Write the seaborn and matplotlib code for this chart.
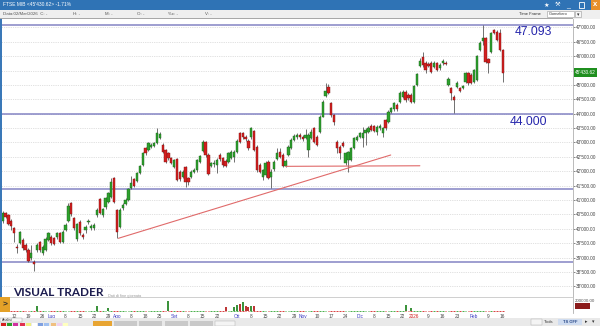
import numpy as np
import pandas as pd
import matplotlib
matplotlib.use("Agg")
import matplotlib.pyplot as plt
import seaborn as sns
from matplotlib.patches import Rectangle

sns.set_theme(style="white")
plt.rcParams['font.family'] = ['Liberation Sans', 'DejaVu Sans']

# ---------------- data ----------------
opens = [40270, 40560, 40480, 40270, 40020, 39380, 39490, 39610, 39440, 39260,
         38970, 38860, 39260, 39550, 39150, 39260, 39610, 39730, 39670, 39700,
         39840, 39550, 39960, 40270, 40910, 40390, 39630, 40250, 39780, 39960,
         40230, 40020, 40020, 40480, 41020, 40480, 40750, 40940, 41120, 41750,
         40650, 40070, 40710, 40850, 41000, 41410, 41720, 41660, 41950, 42220,
         42800, 42740, 42850, 42880, 42970, 43140, 42910, 42740, 42620, 42450,
         42160, 42410, 41990,
         41800, 42150, 41750, 41810, 41970, 42040, 42330, 42720, 43030, 42560,
         42180, 42250, 42220, 42560, 42450, 42370, 42330, 42450, 42510, 42680,
         43320, 43320, 43200, 43060, 43180, 43400, 42850, 42220, 41810, 41870,
         42330, 41810, 42070, 42410, 42680, 42560, 42180, 42560, 42800, 43090,
         43200, 43250, 43200, 43140, 42740, 43140, 43490, 43200, 43380, 43900,
         44620, 44940, 44360, 43960, 43030, 42850, 42990, 42280, 42390, 42390,
         42800, 43090, 43200, 43140,
         43320, 43380, 43570, 43570, 43380, 43490, 43320, 43780, 43720, 44070,
         44150, 44300, 44420, 44590, 44770, 44650, 44650, 44420, 45000, 45660,
         45980, 45770, 45730, 45770, 45640, 45750, 45580, 45750, 45770, 45000,
         44880, 44590, 44940, 44880, 44880, 45110, 45400, 45350, 45110, 45170,
         46210, 46540, 46620, 45890, 46160, 46910, 46850, 46790, 46210]
closes = [40560, 40420, 40160, 40100, 39840, 39330, 39890, 39320, 39260, 38890,
          39150, 38780, 39420, 39260, 39360, 39640, 39840, 39490, 39470, 39840,
          39550, 39900, 40130, 40790, 40500, 40020, 40160, 39840, 39700, 40070,
          40260, 40100, 40120, 40650, 40560, 40680, 41060, 41230, 41640, 40940,
          39900, 40650, 40830, 41000, 41370, 41580, 41490, 41930, 42180, 42620,
          42620, 42970, 42920, 42970, 43320, 43300, 42680, 42330, 42450, 42280,
          42390, 41700, 41720,
          41990, 41610, 41610, 41990, 42040, 42390, 42530, 43030, 42560, 41900,
          42280, 42300, 42390, 42410, 42220, 42180, 42620, 42680, 42680, 43060,
          43030, 43180, 43130, 42800, 43490, 42740, 42040, 41990, 42040, 42300,
          41750, 41990, 42330, 42620, 42510, 42180, 42370, 42850, 43090, 43230,
          43260, 43180, 43110, 43260, 43260, 43380, 43030, 42910, 43900, 44420,
          44790, 44730, 43960, 43720, 42800, 42620, 42880, 42620, 42670, 42800,
          43140, 43200, 43320, 43320,
          43430, 43490, 43430, 43410, 43530, 43570, 43490, 43490, 44070, 44190,
          44360, 44150, 44730, 44770, 44480, 44530, 44420, 44960, 45380, 45840,
          45690, 45520, 45660, 45460, 45770, 45520, 45690, 45840, 45730, 45190,
          44710, 44480, 45080, 44800, 44960, 45400, 45060, 45080, 45520, 46000,
          46450, 46620, 45810, 45750, 46790, 46820, 46560, 46210, 45430.62]
highs = [40630, 40600, 40510, 40330, 40070, 39460, 39930, 39670, 39490, 39320,
         39440, 38910, 39490, 39590, 39430, 39700, 39880, 39780, 39730, 39880,
         39890, 39960, 40190, 40910, 40940, 40420, 40210, 40310, 39840, 40130,
         40330, 40160, 40190, 40710, 41070, 40720, 41120, 41290, 41750, 41790,
         40680, 40710, 40880, 41060, 41410, 41840, 41770, 41970, 42230, 42670,
         42850, 43030, 42990, 43020, 43490, 43380, 42970, 42790, 42670, 42510,
         42440, 42460, 42040,
         42040, 42190, 41810, 42040, 42100, 42440, 42580, 43090, 43060, 42620,
         42330, 42390, 42450, 42620, 42510, 42410, 42670, 42740, 42740, 43110,
         43360, 43360, 43260, 43110, 43530, 43430, 42900, 42280, 42090, 42350,
         42390, 42070, 42390, 42800, 42800, 42620, 42410, 42900, 43140, 43300,
         43340, 43320, 43260, 43460, 43320, 43480, 43550, 43250, 43940, 44480,
         45060, 45030, 44410, 43990, 43090, 42900, 43040, 42670, 42720, 42850,
         43200, 43260, 43380, 43550,
         43490, 43570, 43640, 43620, 43600, 43640, 43550, 43830, 44130, 44240,
         44410, 44360, 44780, 44820, 44820, 44710, 44710, 45000, 45430, 45930,
         46160, 45820, 45800, 45820, 45820, 45800, 45750, 45890, 45820, 45290,
         44940, 44640, 45150, 44940, 45010, 45460, 45450, 45400, 45570, 46050,
         46540, 47093, 46680, 45940, 46840, 46960, 46910, 46930, 46260]
lows = [40190, 40380, 40120, 39940, 39550, 39170, 39470, 39260, 39200, 38830,
        38910, 38540, 39200, 39200, 39090, 39240, 39560, 39450, 39430, 39660,
        39520, 39520, 39910, 40240, 40450, 39960, 39590, 39780, 39660, 39840,
        40160, 39940, 39960, 40420, 40510, 40400, 40700, 40910, 41080, 40910,
        39670, 40030, 40650, 40820, 40960, 41370, 41440, 41630, 41910, 42180,
        42580, 42690, 42800, 42830, 42930, 43110, 42650, 42300, 42390, 42240,
        42110, 41650, 41670,
        41750, 41460, 41520, 41770, 41930, 41990, 42300, 42680, 42510, 41860,
        42140, 42160, 41930, 42370, 42160, 42140, 42300, 42410, 42330, 42650,
        42990, 43130, 43060, 42740, 43130, 42690, 41990, 41930, 41690, 41810,
        41720, 41410, 42020, 42390, 42460, 42140, 42140, 42530, 42760, 43040,
        43130, 43130, 43060, 43110, 42510, 43110, 42970, 42880, 43340, 43870,
        44570, 44690, 43900, 43610, 42620, 42410, 42830, 42220, 41990, 42350,
        42760, 43040, 43160, 42850,
        42910, 43340, 43390, 43360, 43260, 43430, 43200, 43430, 43660, 44010,
        44110, 44110, 44380, 44550, 44420, 44480, 44360, 44380, 44960, 45610,
        45640, 45400, 45610, 45400, 45590, 45470, 45520, 45700, 45680, 44960,
        44480, 44040, 44890, 44760, 44850, 45060, 45010, 45030, 45060, 45130,
        46170, 46390, 45770, 45400, 46120, 46770, 46520, 46170, 45110]

tick_pos = [4, 9, 14, 17, 22, 27, 32, 37, 40, 45, 50, 55, 60, 65, 70, 75, 82,
            87, 92, 97, 102, 105, 110, 115, 120, 125, 130, 135, 140, 144, 149,
            154, 159, 165, 170, 175]
tick_labels = ["12", "19", "26", "Lug", "8", "15", "22", "29", "Ago", "8", "18",
               "25", "Set", "8", "15", "22", "Ott", "8", "15", "22", "29", "Nov",
               "10", "17", "24", "Dic", "8", "15", "22", "2026", "9", "16", "23",
               "Feb", "9", "16"]

level_values = [47093, 44000, 41370, 38840]
level_texts = ["47.093", "44.000"]
trend_x = [40.5, 135.8]
trend_y = [39669, 42564]
flat_x = [99, 146]
flat_y = [42170, 42190]

vol_idx = [12, 33, 37, 58, 78, 81, 82, 83, 84, 85, 86, 87, 88, 141, 143]
vol_val = [50, 53, 33, 100, 43, 43, 60, 67, 93, 50, 43, 50, 53, 60, 33]
vol_dir = ["up", "up", "up", "up", "down", "up", "up", "down", "up", "down",
           "down", "up", "down", "up", "up"]

last_price = 45430.62
grid_values = list(range(38000, 47001, 500))

# ---------------- layout helpers ----------------
W, H = 600, 326
fig = plt.figure(figsize=(6, 3.26), dpi=100)
fig.patch.set_facecolor("white")


def ax_px(x0, y0, x1, y1, **kw):
    return fig.add_axes([x0 / W, 1 - y1 / H, (x1 - x0) / W, (y1 - y0) / H], **kw)


def txt(x, y, s, **kw):
    fig.text(x / W, 1 - y / H, s, **kw)


def rect(x0, y0, x1, y1, **kw):
    fig.patches.append(Rectangle((x0 / W, 1 - y1 / H), (x1 - x0) / W, (y1 - y0) / H,
                                 transform=fig.transFigure, **kw))


GREEN = "#2da22d"
RED = "#d41f1f"
XL = (-0.945, 199.6)

# ---------------- price pane ----------------
ax = ax_px(0, 19, 573, 297)
ax.set_facecolor("white")
ax.set_xlim(*XL)
ax.set_ylim(37628, 47292)
for v in grid_values:
    ax.axhline(v, color="#c4c4c4", lw=0.5, ls=(0, (1, 1.6)), zorder=0)
for v in level_values:
    ax.axhline(v, color="#8484c4", lw=1.1, zorder=1)

o = np.array(opens, float)
c = np.array(closes, float)
hi = np.array(highs, float)
lo = np.array(lows, float)
x = np.arange(len(o))
up = c >= o
ax.vlines(x, lo, hi, color="#4a4a4a", lw=0.55, zorder=2)
body_bottom = np.minimum(o, c)
body_h = np.maximum(np.abs(c - o), 25)
ax.bar(x, body_h, bottom=body_bottom, width=0.78,
       color=np.where(up, GREEN, RED),
       edgecolor=np.where(up, "#1d5e1d", "#7a1212"), linewidth=0.3, zorder=3)

ax.plot(trend_x, trend_y, color="#e06a6a", lw=0.8, zorder=4)
ax.plot(flat_x, flat_y, color="#e06a6a", lw=0.8, zorder=4)

ax.yaxis.tick_right()
ax.set_yticks(grid_values)
ax.set_yticklabels([f"{v:,.2f}".replace(",", "'") for v in grid_values])
ax.tick_params(axis="y", direction="out", length=1.6, width=0.5, pad=0.6,
               labelsize=3.4, colors="#555555", labelcolor="#444444")
ax.set_xticks([])
for s in ["top", "bottom", "left"]:
    ax.spines[s].set_visible(False)
ax.spines["right"].set_color("#b0b0b0")
ax.spines["right"].set_linewidth(0.6)

# level texts
txt(552, 32, level_texts[0], ha="right", va="center", fontsize=8.7, color="#2626ac")
txt(547, 122, level_texts[1], ha="right", va="center", fontsize=8.7, color="#2626ac")

# last price label
rect(574, 68, 597, 76.5, color="#1f8f1f", lw=0, zorder=5)
txt(585.5, 72.3, f"{last_price:,.2f}".replace(",", "'"), ha="center", va="center",
    fontsize=3.4, color="white", zorder=6)

# logo
txt(13, 292.5, "VISUAL TRADER", ha="left", va="center", fontsize=8.5,
    color="#1c1c4e", family=["Lato", "DejaVu Sans"], weight="bold")
txt(108, 295.5, "Dati di fine giornata", ha="left", va="center", fontsize=2.8,
    color="#9a9a9a")

# ---------------- volume pane ----------------
axv = ax_px(0, 298, 573, 313)
axv.set_facecolor("white")
vdf = pd.DataFrame({"idx": vol_idx, "vol": vol_val, "dir": vol_dir})
sns.barplot(data=vdf, x="idx", y="vol", hue="dir", dodge=False, native_scale=True,
            palette={"up": GREEN, "down": RED}, width=0.7, legend=False,
            ax=axv, zorder=3, linewidth=0)
# zero-volume dashes coloured by bar direction
axv.hlines(np.zeros(len(x)), x - 0.3, x + 0.3, colors=np.where(up, GREEN, RED),
           lw=0.6, zorder=2)
axv.set_xlim(*XL)
axv.set_ylim(-20, 130)
axv.set_xlabel("")
axv.set_ylabel("")
axv.set_yticks([])
axv.set_xticks(tick_pos)
axv.set_xticklabels(tick_labels)
axv.tick_params(axis="x", length=0, pad=0.8, labelsize=3.4)
for lab in axv.get_xticklabels():
    t = lab.get_text()
    if t == "2026":
        lab.set_color("#d02020")
    elif t.isalpha():
        lab.set_color("#3a3ac0")
    else:
        lab.set_color("#444444")
for s in ["top", "bottom", "left"]:
    axv.spines[s].set_visible(False)
axv.spines["right"].set_color("#b0b0b0")
axv.spines["right"].set_linewidth(0.6)

# separator between panes
rect(0, 296.8, 573, 298.2, color="#d0d0d0", lw=0)
# left orange arrow box
rect(0, 297, 10, 312, color="#e4a128", lw=0)
txt(5, 304.5, ">", ha="center", va="center", fontsize=6, color="#2b2b2b", weight="bold")
# left window border
rect(0, 19, 1.6, 297, color="#3a78b8", lw=0)

# volume axis label
txt(575, 300.5, "200000.00", ha="left", va="center", fontsize=3.2, color="#555555")
rect(575, 302.5, 590, 309, color="#8b1b1b", lw=0)

# ---------------- window chrome ----------------
rect(0, 0, 600, 9.5, color="#2f73b5", lw=0)
txt(3, 4.9, "FTSE MIB <45'430.62> -1.71%", ha="left", va="center", fontsize=3.5,
    color="white")
txt(546, 5, "★", ha="center", va="center", fontsize=4.5, color="white",
    family=["DejaVu Sans"])
txt(557, 5, "⚒", ha="center", va="center", fontsize=4.5, color="white",
    family=["DejaVu Sans"])
txt(568, 5.6, "_", ha="center", va="center", fontsize=5, color="white")
rect(578.5, 2.2, 584, 7.5, fill=False, ec="white", lw=0.6)
rect(590.5, 0, 600, 9.5, color="#e8902a", lw=0)
txt(595.2, 4.8, "x", ha="center", va="center", fontsize=5.5, color="white",
    weight="bold")

rect(0, 9.5, 600, 18.5, color="#efefef", lw=0)
rect(0, 18.3, 573, 19.4, color="#a8a8a8", lw=0)
txt(3, 14.2, "Data:02/Mar/2026  C: -", ha="left", va="center", fontsize=3.2,
    color="#555555")
for xx, s in [(73, "H: -"), (105, "M: -"), (137, "O: -"), (168, "%c: -"), (205, "V: -")]:
    txt(xx, 14.2, s, ha="left", va="center", fontsize=3.2, color="#555555")
txt(519, 14.2, "Time Frame", ha="left", va="center", fontsize=3.0, color="#333333")
rect(547, 10.8, 574, 17.3, color="white", ec="#9a9a9a", lw=0.4)
txt(549, 14.1, "Giornaliero", ha="left", va="center", fontsize=2.8, color="#333333")
rect(575, 10.8, 580.5, 17.3, color="#f6f6f6", ec="#9a9a9a", lw=0.4)
txt(577.8, 14.1, "▾", ha="center", va="center", fontsize=3.5, color="#333333",
    family=["DejaVu Sans"])

# bottom bar
rect(0, 318, 600, 326, color="#e9e9e9", lw=0)
rect(0, 318.2, 22, 322, color="#f8f8f8", ec="#9a9a9a", lw=0.3)
txt(1.5, 320.1, "Analisi", ha="left", va="center", fontsize=2.6, color="#333333")
sw = ["#d62020", "#2aa02a", "#d030a0", "#e03050", "#f0f080", "#ffffff",
      "#7fa0e0", "#a0c0f0", "#f0c080", "#f0d0f0", "#ffffc0"]
for k, col in enumerate(sw):
    rect(1 + k * 6.2, 322.6, 6 + k * 6.2, 326, color=col, lw=0)
rect(92.5, 320.5, 112, 326, color="#e8a532", lw=0)
for a, b in [(113.5, 136.5), (139, 162), (165, 188), (190, 213)]:
    rect(a, 320.5, b, 326, color="#c9c9c9", lw=0)
rect(215, 320.5, 235, 326, color="#f4f4f4", ec="#aaaaaa", lw=0.3)
rect(531, 319, 542, 324.5, color="#f4f4f4", ec="#aaaaaa", lw=0.3)
txt(544, 321.6, "Tools", ha="left", va="center", fontsize=3.0, color="#333333")
rect(558, 318.8, 582, 324.5, color="#cfdcf0", lw=0)
txt(570, 321.6, "TS OFF", ha="center", va="center", fontsize=3.0, color="#2a4a8a",
    weight="bold")
txt(586, 321.6, "▸", ha="center", va="center", fontsize=3.5, color="#333333",
    family=["DejaVu Sans"])
txt(593, 321.6, "▾", ha="center", va="center", fontsize=3.5, color="#333333",
    family=["DejaVu Sans"])

fig.savefig("out.png", dpi=100, facecolor="white")
